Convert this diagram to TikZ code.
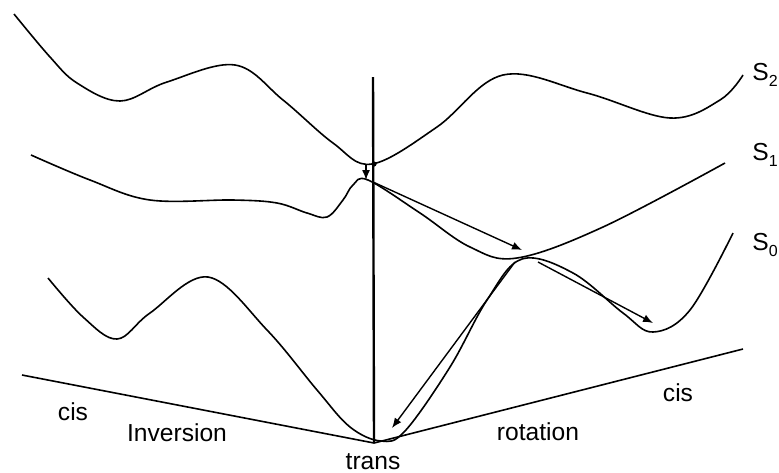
\documentclass[tikz,border=0pt]{standalone}
\usepackage{fontspec}
\setmainfont{Liberation Sans}
\usetikzlibrary{arrows.meta}
\newcommand{\lvlS}[1]{S\raisebox{-0.45ex}{\footnotesize #1}}
\begin{document}
\begin{tikzpicture}[x=0.5pt, y=-0.5pt,
        curve/.style={line width=0.8pt, smooth, tension=0.6},
        jump/.style={line width=0.7pt, -{Latex[length=5pt, width=4pt]}},
        lbl/.style={font=\fontsize{12.3}{14}\selectfont, inner sep=0pt}]
        \useasboundingbox (0,0) rectangle (779,472);
        \coordinate (top) at (373,77);
        \coordinate (trans) at (374,443);
        \coordinate (cisL) at (22,375);
        \coordinate (cisR) at (743,349);
        \coordinate (S2min) at (374,164);
        \coordinate (hopA) at (366,164);
        \coordinate (hopB) at (366,180);
        \coordinate (v1) at (373,182);
        \coordinate (h1) at (522,250);
        \coordinate (p0) at (515,262);
        \coordinate (t0) at (392,428);
        \coordinate (p1) at (538,262);
        \coordinate (c0) at (653,323);
        \draw[curve] plot coordinates {(14,14) (50,57) (77,83) (120,101) (167,82) (235,65) (283,100) (333,143) (372,164) (437,127) (503,75) (587,93) (670,118) (720,100) (743,75)};
        \draw[curve] plot coordinates {(31,155) (90,180) (150,200) (233,200) (277,203) (307,213) (327,217) (343,200) (353,185) (368,180) (420,213) (470,247) (517,258) (603,227) (725,163)};
        \draw[curve] plot coordinates {(48,278) (83,317) (117,339) (150,313) (208,277) (267,330) (317,390) (350,427) (381,441) (405,431) (450,367) (487,300) (522,259) (573,273) (623,313) (653,332) (690,310) (733,233)};
        \draw[line width=0.8pt] (cisL) -- (trans) -- (cisR);
        \draw[line width=1.2pt] (top) -- (trans);
        \fill (S2min) circle[radius=1.3pt];
        \draw[jump] (hopA) -- (hopB);
        \draw[jump] (v1) -- (h1);
        \draw[jump] (p0) -- (t0);
        \draw[jump] (p1) -- (c0);
        \node[lbl, anchor=west] (s2) at (752,75) {\lvlS{2}};
        \node[lbl, anchor=west] (s1) at (752,155) {\lvlS{1}};
        \node[lbl, anchor=west] (s0) at (752,245) {\lvlS{0}};
        \node[lbl] (cis1) at (73,412) {cis};
        \node[lbl] (inv) at (177,433) {Inversion};
        \node[lbl] (tr) at (373,462) {trans};
        \node[lbl] (rot) at (538,432) {rotation};
        \node[lbl] (cis2) at (678,393) {cis};
\end{tikzpicture}
\end{document}
